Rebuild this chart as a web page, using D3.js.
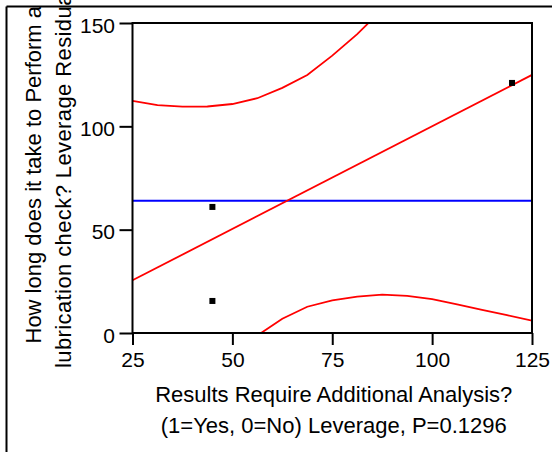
<!DOCTYPE html>
<html><head><meta charset="utf-8">
<script src="https://cdn.jsdelivr.net/npm/d3@7"></script>
<style>
html,body{margin:0;padding:0;background:#fff;}
svg{display:block;}
text{font-family:"Liberation Sans",Arial,Helvetica,sans-serif;fill:#000;}
</style></head>
<body>
<div id="chart"></div>
<script>
const xTicks = [25, 50, 75, 100, 125];
const yTicks = [0, 50, 100, 150];
const pointX = [120, 45, 45];
const pointY = [121, 61, 15.5];
const fitX = [25, 125];
const fitY = [25.5, 124.9];
const meanY = 64;
const upperX = [25, 31.25, 37.5, 43.75, 50, 56.25, 62.5, 68.75, 75, 81.25, 87.5];
const upperY = [112.3, 110.3, 109.5, 109.6, 110.8, 113.6, 118.6, 124.8, 134.2, 144.6, 156.6];
const lowerX = [56.25, 62.5, 68.75, 75, 81.25, 87.5, 93.75, 100, 106.25, 112.5, 118.75, 125];
const lowerY = [-1.2, 6.9, 12.7, 15.8, 17.6, 18.6, 18.0, 16.4, 13.8, 11.2, 8.6, 6.0];
const xTitle = ["Results Require Additional Analysis?", "(1=Yes, 0=No) Leverage, P=0.1296"];
const yTitle = ["How long does it take to Perform a", "lubrication check? Leverage Residuals"];

const W = 552, H = 452;
const L = 132.5, R = 532, T = 23, B = 333;

const svg = d3.select("#chart").append("svg").attr("width", W).attr("height", H);

// outer frame (top and left)
svg.append("line").attr("x1", 6.5).attr("x2", W).attr("y1", 6.5).attr("y2", 6.5)
  .attr("stroke", "#000").attr("stroke-width", 2);
svg.append("line").attr("x1", 6.5).attr("x2", 6.5).attr("y1", 6.5).attr("y2", H)
  .attr("stroke", "#000").attr("stroke-width", 2);

const x = d3.scaleLinear().domain([25, 125]).range([L, R]);
const y = d3.scaleLinear().domain([0, 150]).range([B, T]);

svg.append("defs").append("clipPath").attr("id", "clip")
  .append("rect").attr("x", L).attr("y", T).attr("width", R - L).attr("height", B - T);

const plot = svg.append("g").attr("clip-path", "url(#clip)");

const line = d3.line().x(d => x(d[0])).y(d => y(d[1]));

// mean line
plot.append("path").datum([[25, meanY], [125, meanY]]).attr("d", line)
  .attr("stroke", "#0000ff").attr("stroke-width", 2).attr("fill", "none");
// fit line
plot.append("path").datum(fitX.map((v, i) => [v, fitY[i]])).attr("d", line)
  .attr("stroke", "#ff0000").attr("stroke-width", 1.8).attr("fill", "none");
// confidence curves
plot.append("path").datum(upperX.map((v, i) => [v, upperY[i]])).attr("d", line)
  .attr("stroke", "#ff0000").attr("stroke-width", 1.8).attr("fill", "none");
plot.append("path").datum(lowerX.map((v, i) => [v, lowerY[i]])).attr("d", line)
  .attr("stroke", "#ff0000").attr("stroke-width", 1.8).attr("fill", "none");

// points
plot.selectAll("rect.pt").data(pointX.map((v, i) => [v, pointY[i]])).enter()
  .append("rect").attr("class", "pt")
  .attr("x", d => x(d[0]) - 3).attr("y", d => y(d[1]) - 3)
  .attr("width", 6).attr("height", 6).attr("fill", "#000");

// axes
const ax = svg.append("g").attr("transform", `translate(0,${B})`)
  .call(d3.axisBottom(x).tickValues(xTicks).tickSize(12).tickPadding(7).tickFormat(d3.format("d")));
const ay = svg.append("g").attr("transform", `translate(${L},0)`)
  .call(d3.axisLeft(y).tickValues(yTicks).tickSize(13).tickPadding(4.5).tickFormat(d3.format("d")));
[ax, ay].forEach(g => {
  g.select(".domain").remove();
  g.selectAll(".tick line").attr("stroke", "#000").attr("stroke-width", 2);
  g.selectAll(".tick text").attr("font-size", 21).attr("fill", "#000")
    .style("font-family", '"Liberation Sans",Arial,sans-serif');
});
ay.selectAll(".tick text").attr("dy", "0.43em");

// plot border
svg.append("rect").attr("x", L).attr("y", T).attr("width", R - L).attr("height", B - T)
  .attr("fill", "none").attr("stroke", "#000").attr("stroke-width", 2);

// x title
const cx = (L + R) / 2 + 1.5;
svg.append("text").attr("x", cx).attr("y", 401.5).attr("text-anchor", "middle")
  .attr("font-size", 22).text(xTitle[0]);
svg.append("text").attr("x", cx).attr("y", 433).attr("text-anchor", "middle")
  .attr("font-size", 22).text(xTitle[1]);

// y title (rotated)
svg.append("text").attr("transform", "translate(41,343.5) rotate(-90)")
  .attr("font-size", 22).text(yTitle[0]);
svg.append("text").attr("transform", "translate(71,368) rotate(-90)")
  .attr("font-size", 22).attr("letter-spacing", "0.4px").text(yTitle[1]);
</script>
</body></html>
